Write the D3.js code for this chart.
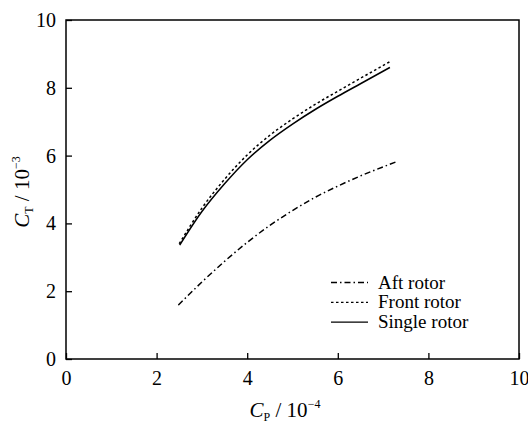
<!DOCTYPE html>
<html>
<head>
<meta charset="utf-8">
<script src="https://cdn.jsdelivr.net/npm/d3@7"></script>
<style>
  body { margin: 0; background: #fff; }
  svg { display: block; }
</style>
</head>
<body>
<svg id="chart" width="528" height="426"></svg>
<script>
// values (CP in 1e-4, CT in 1e-3)
const aftCP = [2.48, 3.0, 3.5, 4.0, 4.5, 5.0, 5.5, 6.0, 6.5, 7.3]
const aftCT = [1.59, 2.27, 2.88, 3.44, 3.94, 4.38, 4.77, 5.1, 5.4, 5.82]
const frontCP = [2.5, 3.0, 3.5, 4.0, 4.5, 5.0, 5.5, 6.0, 6.5, 7.15]
const frontCT = [3.4, 4.45, 5.3, 6.02, 6.6, 7.08, 7.51, 7.9, 8.28, 8.77]
const singleCP = [2.51, 3.0, 3.5, 4.0, 4.5, 5.0, 5.5, 6.0, 6.5, 7.15]
const singleCT = [3.36, 4.35, 5.17, 5.88, 6.45, 6.93, 7.36, 7.75, 8.12, 8.6]
const xTicks = [0, 2, 4, 6, 8, 10]
const yTicks = [0, 2, 4, 6, 8, 10]

const FONT = '"Liberation Serif", "Times New Roman", serif'

const series = [
    {name: 'Aft rotor', cp: aftCP, ct: aftCT, dash: '6,3,1.5,3'},
    {name: 'Front rotor', cp: frontCP, ct: frontCT, dash: '2.5,2.5'},
    {name: 'Single rotor', cp: singleCP, ct: singleCT, dash: null}
]

const svg = d3.select('#chart')
const mLeft = 66, mRight = 519, mTop = 20, mBottom = 359

const x = d3.scaleLinear().domain([0, 10]).range([mLeft, mRight])
const y = d3.scaleLinear().domain([0, 10]).range([mBottom, mTop])

// frame
svg.append('rect')
    .attr('x', mLeft).attr('y', mTop)
    .attr('width', mRight - mLeft).attr('height', mBottom - mTop)
    .attr('fill', 'none').attr('stroke', '#000').attr('stroke-width', 1.5)

const xAxis = svg.append('g')
    .attr('transform', `translate(0,${mBottom})`)
    .call(d3.axisBottom(x).tickValues(xTicks).tickSize(-6).tickPadding(12).tickFormat(d3.format('d')))
const yAxis = svg.append('g')
    .attr('transform', `translate(${mLeft},0)`)
    .call(d3.axisLeft(y).tickValues(yTicks).tickSize(-6).tickPadding(10).tickFormat(d3.format('d')))

;[xAxis, yAxis].forEach(g => {
    g.attr('font-family', FONT).attr('font-size', 20)
    g.select('.domain').remove()
    g.selectAll('line').attr('stroke', '#000').attr('stroke-width', 1.3)
    g.selectAll('text').attr('fill', '#000')
})

// curves
const line = d3.line()
    .x(d => x(d[0]))
    .y(d => y(d[1]))
    .curve(d3.curveMonotoneX)

series.forEach(s => {
    const pts = s.cp.map((c, i) => [c, s.ct[i]])
    svg.append('path')
        .datum(pts)
        .attr('d', line)
        .attr('fill', 'none')
        .attr('stroke', '#000')
        .attr('stroke-width', 1.5)
        .attr('stroke-dasharray', s.dash)
})

// legend
const legend = svg.append('g').attr('font-family', FONT).attr('font-size', 19)
series.forEach((s, i) => {
    const ly = 282.5 + i * 19.8
    legend.append('line')
        .attr('x1', 331).attr('x2', 368)
        .attr('y1', ly).attr('y2', ly)
        .attr('stroke', '#000').attr('stroke-width', 1.3)
        .attr('stroke-dasharray', s.dash)
    legend.append('text')
        .attr('x', 378).attr('y', ly + 6)
        .text(s.name)
})

// axis titles
const xt = svg.append('text')
    .attr('x', 285).attr('y', 417)
    .attr('text-anchor', 'middle')
    .attr('font-family', FONT).attr('font-size', 21)
xt.append('tspan').attr('font-style', 'italic').text('C')
xt.append('tspan').attr('dy', 4).attr('font-size', 12).text('P')
xt.append('tspan').attr('dy', -4).text(' / 10')
xt.append('tspan').attr('dy', -9).attr('font-size', 12).text('\u22124')

const yt = svg.append('text')
    .attr('transform', 'translate(29,192) rotate(-90)')
    .attr('text-anchor', 'middle')
    .attr('font-family', FONT).attr('font-size', 21)
yt.append('tspan').attr('font-style', 'italic').text('C')
yt.append('tspan').attr('dy', 4).attr('font-size', 12).text('T')
yt.append('tspan').attr('dy', -4).text(' / 10')
yt.append('tspan').attr('dy', -9).attr('font-size', 12).text('\u22123')
</script>
</body>
</html>
